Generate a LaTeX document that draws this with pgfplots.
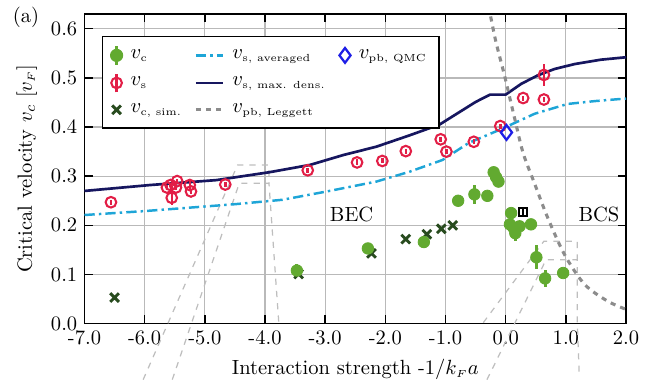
\documentclass[border=0pt]{standalone}
\usepackage{amsmath}
\usepackage{pgfplots}
\pgfplotsset{compat=1.18}
\definecolor{vcgreen}{RGB}{98,170,48}
\definecolor{vsred}{RGB}{226,30,70}
\definecolor{simgreen}{RGB}{40,75,30}
\definecolor{navyline}{RGB}{22,22,95}
\definecolor{cyanline}{RGB}{30,165,215}
\definecolor{qmcblue}{RGB}{30,30,230}
\definecolor{leggray}{RGB}{140,140,140}
\definecolor{insetgray}{RGB}{190,190,190}
\definecolor{gridgray}{RGB}{185,185,185}

\newcommand{\sub}[1]{\hbox{\fontsize{5}{6}\selectfont #1}}

\pgfplotsset{
  markonly legend/.style={legend image code/.code={\draw[##1, only marks] plot coordinates {(0.12cm,0cm)};}},
  errbar legend/.style={legend image code/.code={\draw[#1, line width=1.3pt] (0.12cm,-0.16cm) -- (0.12cm,0.16cm); \draw[##1, only marks] plot coordinates {(0.12cm,0cm)};}},
  shortline legend/.style={legend image code/.code={\draw[##1] (0cm,0cm) -- (0.46cm,0cm);}},
}

\pgfplotstableread{
x y e
-3.47 0.108 0.013
-2.29 0.153 0.008
-1.36 0.166 0.012
-0.79 0.250 0.006
-0.52 0.263 0.020
-0.305 0.260 0.008
-0.20 0.308 0.010
-0.16 0.298 0.008
-0.12 0.289 0.008
0.09 0.225 0.010
0.07 0.202 0.008
0.13 0.195 0.008
0.16 0.184 0.016
0.23 0.198 0.008
0.42 0.202 0.006
0.51 0.135 0.024
0.655 0.092 0.018
0.955 0.103 0.006
}\vcdata

\pgfplotstableread{
x y e
-6.56 0.247 0.005
-5.63 0.277 0.005
-5.57 0.282 0.005
-5.46 0.290 0.005
-5.55 0.256 0.015
-5.48 0.277 0.005
-5.25 0.282 0.010
-5.23 0.269 0.005
-4.66 0.283 0.005
-3.29 0.312 0.005
-2.47 0.328 0.006
-2.05 0.331 0.005
-1.66 0.351 0.005
-1.08 0.375 0.005
-0.985 0.350 0.005
-0.53 0.370 0.005
-0.09 0.402 0.005
0.29 0.459 0.005
0.635 0.456 0.005
0.635 0.506 0.022
}\vsdata

\pgfplotstableread{
x y
-6.50 0.053
-3.44 0.101
-2.23 0.143
-1.66 0.172
-1.31 0.182
-1.07 0.193
-0.88 0.200
}\simdata

\begin{document}
\begin{tikzpicture}
\begin{axis}[
  scale only axis, width=9.27cm, height=5.30cm,
  xmin=-7, xmax=2, ymin=0, ymax=0.63,
  xtick={-7,-6,-5,-4,-3,-2,-1,0,1,2},
  xticklabels={-7.0,-6.0,-5.0,-4.0,-3.0,-2.0,-1.0,0.0,1.0,2.0},
  ytick={0,0.1,0.2,0.3,0.4,0.5,0.6},
  yticklabels={0.0,0.1,0.2,0.3,0.4,0.5,0.6},
  grid=major, grid style={gridgray, line width=0.6pt},
  tick align=inside, major tick length=4pt,
  tick style={black, line width=0.7pt},
  axis line style={black, line width=0.8pt},
  xlabel={Interaction strength -1/$k_{\scriptscriptstyle F}a$},
  ylabel={Critical velocity $v_c$ $[v_{\scriptscriptstyle F}]$},
  clip=false,
  legend columns=3,
  legend cell align=left,
  legend style={at={(0.032,0.93)}, anchor=north west, draw=black, line width=0.8pt,
    fill=white, font=\normalsize, inner xsep=4pt, inner ysep=4pt,
    /tikz/every even column/.append style={column sep=4pt},
    /tikz/every odd column/.append style={column sep=2pt},
    row sep=3pt},
  inset/.style={insetgray, line width=0.6pt, dash pattern=on 3pt off 3pt, forget plot},
]

% decorative inset outlines
\addplot[inset] coordinates {(-6.025,-0.114) (-4.456,0.3227) (-3.934,0.3227) (-3.934,0.2854)};
\addplot[inset] coordinates {(-5.541,-0.114) (-4.428,0.2854) (-3.934,0.2854) (-3.77,0)};
\addplot[inset] coordinates {(-0.372,0.002) (0.633,0.1674) (1.191,0.1674) (1.191,0.1302)};
\addplot[inset] coordinates {(-0.311,-0.114) (0.671,0.1302) (1.191,0.1302) (1.191,0) (1.224,-0.11)};

% lines
\addplot[cyanline, line width=1.2pt, dash pattern=on 5pt off 2pt on 1.2pt off 2pt, forget plot] coordinates {
(-7,0.221) (-6,0.229) (-5.36,0.235) (-4.5,0.243) (-3.71,0.252) (-2.97,0.269) (-2.15,0.289)
(-1.60,0.309) (-1.05,0.333) (-0.61,0.368) (-0.3,0.384) (-0.07,0.396) (0.48,0.427)
(1.03,0.447) (1.5,0.453) (2.0,0.458)};
\addplot[navyline, line width=1.3pt, forget plot] coordinates {
(-7,0.270) (-5.91,0.282) (-4.81,0.292) (-3.93,0.308) (-3.25,0.323) (-2.70,0.343) (-2.15,0.360)
(-1.60,0.383) (-1.10,0.405) (-0.80,0.428) (-0.50,0.451) (-0.26,0.466) (0.0,0.466)
(0.26,0.488) (0.53,0.505) (0.81,0.518) (1.14,0.528) (1.58,0.537) (2.0,0.542)};
\addplot[leggray, line width=1.5pt, dash pattern=on 2.5pt off 2.5pt, smooth, forget plot] coordinates {
(-0.25,0.625) (-0.16,0.572) (-0.02,0.505) (0.15,0.417) (0.29,0.347) (0.48,0.285)
(0.70,0.215) (0.98,0.140) (1.31,0.080) (1.69,0.046) (2.0,0.029)};

% data
\addplot[only marks, mark=x, mark size=3pt, simgreen, line width=1.4pt, forget plot] table[x=x,y=y]{\simdata};
\addplot[only marks, mark=*, mark size=2.8pt, vcgreen, forget plot,
  error bars/.cd, y dir=both, y explicit, error mark=none,
  error bar style={line width=1.4pt, vcgreen}] table[x=x,y=y,y error=e]{\vcdata};
\addplot[only marks, mark=o, mark size=2.6pt, vsred, line width=1pt, mark options={fill=white}, forget plot,
  error bars/.cd, y dir=both, y explicit, error mark=none,
  error bar style={line width=1.2pt, vsred}] table[x=x,y=y,y error=e]{\vsdata};
\addplot[only marks, mark=square, mark size=2pt, black, line width=0.9pt, mark options={fill=white}, forget plot,
  error bars/.cd, y dir=both, y explicit, error mark=none,
  error bar style={line width=0.9pt, black}] coordinates {(0.29,0.227) +- (0,0.01)};
\addplot[only marks, mark=diamond, mark size=3.6pt, qmcblue, line width=1.1pt, mark options={fill=white}, forget plot]
  coordinates {(0.013,0.389)};

\node at (axis cs:-2.56,0.222) {BEC};
\node at (axis cs:1.55,0.222) {BCS};
\node at (rel axis cs:-0.108,0.99) {(a)};
\coordinate (BL) at (rel axis cs:-0.156,-0.18);
\coordinate (TR) at (rel axis cs:1.025,1.032);

% legend
\addlegendimage{vcgreen, mark=*, mark size=2.8pt, errbar legend=vcgreen}
\addlegendentry{$v_{\sub{c}}$}
\addlegendimage{cyanline, line width=1.2pt, dash pattern=on 5pt off 2pt on 1.2pt off 2pt, shortline legend}
\addlegendentry{$v_{\sub{s, averaged}}$}
\addlegendimage{qmcblue, mark=diamond, mark size=3.6pt, line width=1.1pt, markonly legend}
\addlegendentry{$v_{\sub{pb, QMC}}$}
\addlegendimage{vsred, mark=o, mark size=2.6pt, line width=1pt, mark options={fill=white}, errbar legend=vsred}
\addlegendentry{$v_{\sub{s}}$}
\addlegendimage{navyline, line width=1.3pt, shortline legend}
\addlegendentry{$v_{\sub{s, max. dens.}}$}
\addlegendimage{empty legend}
\addlegendentry{}
\addlegendimage{simgreen, mark=x, mark size=3pt, line width=1.4pt, markonly legend}
\addlegendentry{$v_{\sub{c, sim.}}$}
\addlegendimage{leggray, line width=1.5pt, dash pattern=on 2.5pt off 2.5pt, shortline legend}
\addlegendentry{$v_{\sub{pb, Leggett}}$}
\end{axis}
\path (BL) rectangle (TR);
\end{tikzpicture}
\end{document}
